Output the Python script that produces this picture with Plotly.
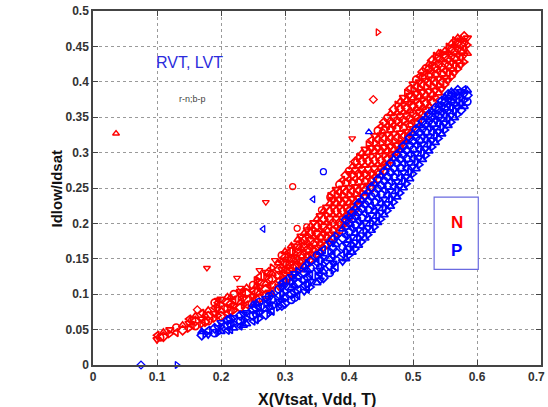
import plotly.graph_objects as go

# ---- N-type devices (red): x column -> Idlow/Idsat values ----
red_cols = [
    (0.100, [0.036, 0.042]),
    (0.105, [0.039]),
    (0.110, [0.040, 0.046]),
    (0.120, [0.044, 0.050]),
    (0.130, [0.046, 0.053]),
    (0.140, [0.049, 0.056]),
    (0.150, [0.052, 0.059, 0.065]),
    (0.160, [0.055, 0.062, 0.069]),
    (0.170, [0.058, 0.065, 0.073]),
    (0.180, [0.062, 0.069, 0.077]),
    (0.190, [0.066, 0.073, 0.081, 0.088]),
    (0.200, [0.069, 0.077, 0.085, 0.093]),
    (0.210, [0.073, 0.080, 0.088, 0.096]),
    (0.220, [0.077, 0.084, 0.092, 0.100]),
    (0.230, [0.081, 0.088, 0.096, 0.104]),
    (0.240, [0.085, 0.093, 0.101, 0.109]),
    (0.250, [0.089, 0.097, 0.105, 0.113]),
    (0.260, [0.094, 0.102, 0.110, 0.118, 0.125]),
    (0.270, [0.099, 0.107, 0.115, 0.123, 0.131]),
    (0.280, [0.105, 0.113, 0.121, 0.129, 0.137]),
    (0.290, [0.111, 0.119, 0.127, 0.135, 0.144]),
    (0.300, [0.120, 0.128, 0.136, 0.144, 0.152, 0.160]),
    (0.310, [0.126, 0.134, 0.142, 0.151, 0.160, 0.168]),
    (0.320, [0.133, 0.141, 0.150, 0.159, 0.168, 0.177]),
    (0.330, [0.140, 0.149, 0.158, 0.167, 0.176, 0.186]),
    (0.340, [0.148, 0.157, 0.166, 0.176, 0.186, 0.196]),
    (0.350, [0.156, 0.166, 0.176, 0.186, 0.196, 0.206]),
    (0.360, [0.165, 0.175, 0.185, 0.195, 0.206, 0.217]),
    (0.370, [0.175, 0.185, 0.195, 0.206, 0.217, 0.228, 0.238]),
    (0.380, [0.185, 0.195, 0.206, 0.217, 0.228, 0.239, 0.248]),
    (0.390, [0.196, 0.206, 0.217, 0.228, 0.239, 0.250, 0.261]),
    (0.400, [0.208, 0.218, 0.229, 0.240, 0.251, 0.262, 0.274]),
    (0.410, [0.220, 0.230, 0.241, 0.252, 0.263, 0.275, 0.287]),
    (0.420, [0.232, 0.242, 0.253, 0.264, 0.276, 0.288, 0.299]),
    (0.430, [0.244, 0.254, 0.265, 0.276, 0.288, 0.300, 0.311]),
    (0.440, [0.256, 0.266, 0.277, 0.289, 0.301, 0.313, 0.324]),
    (0.450, [0.268, 0.278, 0.289, 0.301, 0.313, 0.325, 0.337]),
    (0.460, [0.281, 0.291, 0.302, 0.314, 0.326, 0.338, 0.349]),
    (0.470, [0.294, 0.304, 0.315, 0.327, 0.339, 0.350, 0.361]),
    (0.480, [0.307, 0.317, 0.328, 0.340, 0.351, 0.362, 0.372]),
    (0.490, [0.320, 0.330, 0.341, 0.352, 0.363, 0.374, 0.384]),
    (0.500, [0.334, 0.344, 0.355, 0.366, 0.377, 0.388, 0.397]),
    (0.510, [0.347, 0.357, 0.368, 0.379, 0.390, 0.400, 0.408]),
    (0.520, [0.360, 0.370, 0.381, 0.392, 0.402, 0.412, 0.419]),
    (0.530, [0.372, 0.382, 0.393, 0.404, 0.414, 0.423, 0.430]),
    (0.540, [0.384, 0.394, 0.405, 0.415, 0.425, 0.434, 0.440]),
    (0.550, [0.396, 0.406, 0.416, 0.426, 0.436, 0.444]),
    (0.560, [0.407, 0.417, 0.427, 0.437, 0.446, 0.454]),
    (0.570, [0.418, 0.428, 0.438, 0.447, 0.455, 0.462]),
    (0.580, [0.428, 0.438, 0.447, 0.456, 0.464]),
    (0.585, [0.440, 0.452, 0.462]),
]

# in-between sweep points of the N band
red_mid_cols = [
    (0.155, [0.056, 0.063]),
    (0.175, [0.061, 0.070]),
    (0.195, [0.070, 0.079, 0.088]),
    (0.215, [0.077, 0.086, 0.095]),
    (0.235, [0.085, 0.094, 0.103]),
    (0.255, [0.093, 0.102, 0.111, 0.119]),
    (0.275, [0.103, 0.112, 0.121, 0.131]),
    (0.295, [0.116, 0.125, 0.135, 0.146, 0.155]),
    (0.305, [0.123, 0.132, 0.141, 0.150, 0.159]),
    (0.315, [0.130, 0.139, 0.148, 0.158, 0.168]),
    (0.325, [0.137, 0.146, 0.155, 0.165, 0.175, 0.182]),
    (0.335, [0.144, 0.153, 0.163, 0.173, 0.183, 0.191]),
    (0.345, [0.152, 0.161, 0.171, 0.181, 0.191, 0.201]),
    (0.355, [0.160, 0.170, 0.180, 0.191, 0.201, 0.211]),
    (0.365, [0.170, 0.180, 0.190, 0.201, 0.212, 0.223]),
    (0.375, [0.180, 0.190, 0.201, 0.212, 0.223, 0.234, 0.243]),
    (0.385, [0.190, 0.201, 0.212, 0.223, 0.234, 0.245, 0.255]),
    (0.395, [0.202, 0.212, 0.223, 0.234, 0.245, 0.257, 0.268]),
    (0.405, [0.214, 0.224, 0.235, 0.246, 0.257, 0.269, 0.280]),
    (0.415, [0.226, 0.236, 0.247, 0.258, 0.270, 0.281, 0.293]),
    (0.425, [0.238, 0.248, 0.259, 0.270, 0.282, 0.294, 0.305]),
    (0.435, [0.250, 0.260, 0.271, 0.283, 0.295, 0.307, 0.318]),
    (0.445, [0.262, 0.272, 0.283, 0.295, 0.307, 0.319, 0.331]),
    (0.455, [0.275, 0.285, 0.296, 0.308, 0.320, 0.332, 0.343]),
    (0.465, [0.288, 0.298, 0.309, 0.321, 0.333, 0.344, 0.355]),
    (0.475, [0.301, 0.311, 0.322, 0.334, 0.345, 0.356, 0.367]),
    (0.485, [0.314, 0.324, 0.335, 0.346, 0.357, 0.368, 0.378]),
    (0.495, [0.327, 0.337, 0.348, 0.359, 0.370, 0.381, 0.391]),
    (0.505, [0.341, 0.351, 0.362, 0.373, 0.384, 0.394, 0.403]),
    (0.515, [0.354, 0.364, 0.375, 0.386, 0.396, 0.406, 0.414]),
    (0.525, [0.366, 0.376, 0.387, 0.398, 0.408, 0.418, 0.425]),
    (0.535, [0.378, 0.388, 0.399, 0.410, 0.420, 0.429, 0.436]),
    (0.545, [0.390, 0.400, 0.411, 0.421, 0.431, 0.440]),
    (0.555, [0.402, 0.412, 0.422, 0.432, 0.441, 0.449]),
    (0.565, [0.413, 0.423, 0.433, 0.442, 0.451, 0.458]),
    (0.575, [0.424, 0.434, 0.443, 0.452, 0.460]),
]

# scattered N points away from the main band
red_out_x = [0.036, 0.445, 0.438, 0.312, 0.270, 0.178, 0.225, 0.230, 0.195, 0.163,
             0.260, 0.319, 0.284, 0.405, 0.370, 0.357, 0.334, 0.400, 0.412, 0.452, 0.464]
red_out_y = [0.327, 0.470, 0.375, 0.252, 0.230, 0.137, 0.123, 0.109, 0.092, 0.078,
             0.134, 0.193, 0.148, 0.320, 0.237, 0.219, 0.195, 0.271, 0.287, 0.329, 0.332]

# ---- P-type devices (blue) ----
blue_cols = [
    (0.170, [0.042, 0.047]),
    (0.175, [0.044]),
    (0.180, [0.043, 0.049]),
    (0.190, [0.045, 0.052]),
    (0.200, [0.047, 0.054, 0.060]),
    (0.210, [0.049, 0.056, 0.063]),
    (0.220, [0.052, 0.059, 0.067]),
    (0.230, [0.055, 0.062, 0.070]),
    (0.240, [0.058, 0.066, 0.074]),
    (0.250, [0.062, 0.070, 0.078, 0.085]),
    (0.260, [0.066, 0.074, 0.082, 0.089]),
    (0.270, [0.071, 0.079, 0.087, 0.094]),
    (0.280, [0.076, 0.084, 0.092, 0.100]),
    (0.290, [0.082, 0.090, 0.098, 0.107]),
    (0.300, [0.087, 0.095, 0.104, 0.113, 0.119]),
    (0.310, [0.092, 0.100, 0.109, 0.118, 0.125]),
    (0.320, [0.098, 0.106, 0.115, 0.124, 0.132]),
    (0.330, [0.104, 0.112, 0.121, 0.130, 0.139]),
    (0.340, [0.110, 0.118, 0.127, 0.137, 0.147]),
    (0.350, [0.116, 0.125, 0.134, 0.144, 0.155]),
    (0.360, [0.123, 0.132, 0.142, 0.152, 0.163]),
    (0.370, [0.130, 0.140, 0.150, 0.161, 0.172]),
    (0.380, [0.138, 0.148, 0.159, 0.170, 0.182]),
    (0.390, [0.146, 0.156, 0.167, 0.179, 0.192]),
    (0.400, [0.155, 0.165, 0.176, 0.188, 0.201, 0.210]),
    (0.410, [0.164, 0.174, 0.186, 0.198, 0.211, 0.222]),
    (0.420, [0.174, 0.184, 0.196, 0.208, 0.221, 0.233]),
    (0.430, [0.184, 0.194, 0.206, 0.219, 0.232, 0.245]),
    (0.440, [0.195, 0.205, 0.217, 0.230, 0.243, 0.256]),
    (0.450, [0.206, 0.216, 0.228, 0.241, 0.254, 0.267]),
    (0.460, [0.218, 0.228, 0.240, 0.253, 0.266, 0.279]),
    (0.470, [0.230, 0.240, 0.252, 0.265, 0.278, 0.291]),
    (0.480, [0.243, 0.253, 0.265, 0.278, 0.291, 0.303]),
    (0.490, [0.256, 0.266, 0.278, 0.291, 0.303, 0.315]),
    (0.500, [0.270, 0.280, 0.292, 0.304, 0.316, 0.327]),
    (0.510, [0.283, 0.293, 0.305, 0.317, 0.328, 0.338]),
    (0.520, [0.296, 0.306, 0.318, 0.329, 0.340, 0.349]),
    (0.530, [0.308, 0.318, 0.329, 0.340, 0.350, 0.358]),
    (0.540, [0.320, 0.330, 0.341, 0.351, 0.360, 0.367]),
    (0.550, [0.332, 0.342, 0.352, 0.362, 0.371, 0.378]),
    (0.560, [0.343, 0.353, 0.363, 0.372, 0.380, 0.386]),
    (0.570, [0.354, 0.364, 0.373, 0.381, 0.388]),
    (0.580, [0.365, 0.374, 0.382, 0.389]),
    (0.585, [0.372, 0.381, 0.388]),
]

# in-between sweep points of the P band
blue_mid_cols = [
    (0.195, [0.046, 0.053]),
    (0.215, [0.050, 0.058, 0.065]),
    (0.235, [0.056, 0.064, 0.072]),
    (0.255, [0.064, 0.072, 0.080, 0.087]),
    (0.275, [0.073, 0.081, 0.089, 0.097]),
    (0.295, [0.084, 0.092, 0.101, 0.110, 0.116]),
    (0.315, [0.095, 0.103, 0.112, 0.121, 0.129]),
    (0.335, [0.107, 0.115, 0.124, 0.134, 0.143]),
    (0.355, [0.120, 0.128, 0.138, 0.148, 0.159]),
    (0.375, [0.134, 0.144, 0.154, 0.165, 0.177]),
    (0.395, [0.150, 0.160, 0.171, 0.183, 0.196, 0.205]),
    (0.405, [0.159, 0.169, 0.181, 0.193, 0.206, 0.216]),
    (0.415, [0.169, 0.179, 0.191, 0.203, 0.216, 0.228]),
    (0.425, [0.179, 0.189, 0.201, 0.214, 0.227, 0.239]),
    (0.435, [0.190, 0.200, 0.212, 0.225, 0.238, 0.251]),
    (0.445, [0.201, 0.211, 0.223, 0.236, 0.249, 0.262]),
    (0.455, [0.212, 0.222, 0.234, 0.247, 0.260, 0.273]),
    (0.465, [0.224, 0.234, 0.246, 0.259, 0.272, 0.285]),
    (0.475, [0.237, 0.247, 0.259, 0.272, 0.285, 0.297]),
    (0.485, [0.250, 0.260, 0.272, 0.285, 0.297, 0.309]),
    (0.495, [0.263, 0.273, 0.285, 0.298, 0.310, 0.321]),
    (0.505, [0.277, 0.287, 0.299, 0.311, 0.322, 0.333]),
    (0.515, [0.290, 0.300, 0.312, 0.323, 0.334, 0.344]),
    (0.525, [0.302, 0.312, 0.323, 0.335, 0.345, 0.354]),
    (0.535, [0.314, 0.324, 0.335, 0.346, 0.355, 0.363]),
    (0.545, [0.326, 0.336, 0.347, 0.357, 0.366, 0.373]),
    (0.555, [0.338, 0.348, 0.358, 0.367, 0.376, 0.382]),
    (0.565, [0.349, 0.359, 0.368, 0.377, 0.384]),
    (0.575, [0.360, 0.369, 0.378, 0.386]),
]

blue_out_x = [0.431, 0.360, 0.344, 0.266, 0.075, 0.131]
blue_out_y = [0.329, 0.273, 0.234, 0.192, 0.000, 0.000]

x_ticks = [0, 0.1, 0.2, 0.3, 0.4, 0.5, 0.6, 0.7]
y_ticks = [0, 0.05, 0.1, 0.15, 0.2, 0.25, 0.3, 0.35, 0.4, 0.45, 0.5]

# marker shapes cycle over the sweep points (MATLAB-style open markers)
SYMBOLS = ["triangle-down-open", "triangle-left-open", "circle-open",
           "diamond-open", "triangle-up-open", "triangle-right-open"]
RED_OUT_SYM = ["triangle-up-open", "triangle-right-open", "diamond-open", "circle-open",
               "triangle-down-open", "triangle-down-open", "triangle-down-open",
               "triangle-down-open", "triangle-down-open", "diamond-open",
               "triangle-down-open", "circle-open", "triangle-down-open",
               "triangle-down-open", "circle-open", "circle-open", "circle-open",
               "triangle-down-open", "circle-open", "circle-open", "circle-open"]
BLUE_OUT_SYM = ["triangle-up-open", "circle-open", "triangle-left-open",
                "triangle-left-open", "diamond-open", "triangle-right-open"]


def expand(*col_sets):
    xs, ys = [], []
    for cols in col_sets:
        for cx, vals in cols:
            for v in vals:
                xs.append(cx)
                ys.append(v)
    return xs, ys


red_x, red_y = expand(red_cols, red_mid_cols)
blue_x, blue_y = expand(blue_cols, blue_mid_cols)

RED = "#ff0000"
BLUE = "#0000ff"

fig = go.Figure()


def add_points(xs, ys, color, symbols, size=7, lw=1.7):
    fig.add_trace(go.Scatter(
        x=xs, y=ys, mode="markers", showlegend=False, hoverinfo="skip",
        cliponaxis=False,
        marker=dict(symbol=symbols, size=size, color=color,
                    line=dict(color=color, width=lw)),
    ))


add_points(red_x, red_y, RED, [SYMBOLS[i % len(SYMBOLS)] for i in range(len(red_x))])
add_points(red_out_x, red_out_y, RED, RED_OUT_SYM, size=6, lw=1.3)
add_points(blue_x, blue_y, BLUE, [SYMBOLS[(i + 3) % len(SYMBOLS)] for i in range(len(blue_x))])
add_points(blue_out_x, blue_out_y, BLUE, BLUE_OUT_SYM, size=6, lw=1.3)

tick_font = dict(family="Arial, Liberation Sans, sans-serif", size=12,
                 color="#333333", weight="bold")
axis_common = dict(
    showgrid=True, gridcolor="#9a9a9a", griddash="dot", gridwidth=1,
    zeroline=False, showline=True, linecolor="#444444", linewidth=1.5,
    mirror="allticks", ticks="inside", ticklen=5, tickcolor="#444444",
    tickfont=tick_font, automargin=False,
)

fig.update_layout(
    width=548, height=407,
    margin=dict(l=93, r=7, t=11, b=42),
    paper_bgcolor="white", plot_bgcolor="white",
    xaxis=dict(range=[0, 0.7], tickvals=x_ticks,
               ticktext=[f"{v:g}" for v in x_ticks], **axis_common),
    yaxis=dict(range=[0, 0.5], tickvals=y_ticks,
               ticktext=[f"{v:g}" for v in y_ticks], **axis_common),
    font=dict(family="Arial, Liberation Sans, sans-serif"),
)

# last x tick label, pulled in so it ends at the right edge of the page
fig.add_annotation(x=1, xref="paper", xanchor="right", xshift=6,
                   y=0, yref="paper", yanchor="top", yshift=-3,
                   text="0.7", showarrow=False, font=tick_font)

# axis titles
fig.add_annotation(xref="paper", yref="paper", x=0.5, y=-0.068, yanchor="top",
                   text="<b>X(Vtsat, Vdd, T)</b>", showarrow=False,
                   font=dict(size=16, color="#111111"))
fig.add_annotation(xref="paper", yref="paper", x=-0.105, y=0.5, textangle=-90,
                   text="<b>Idlow/Idsat</b>", showarrow=False,
                   font=dict(size=15, color="#111111"))

# in-plot labels
fig.add_annotation(x=0.150, y=0.427, text="RVT, LVT", showarrow=False,
                   font=dict(size=16, color="#2b2bdc"))
fig.add_annotation(x=0.156, y=0.376, text="r-n;b-p", showarrow=False,
                   font=dict(size=9, color="#444444"))

# N / P key box
fig.add_shape(type="rect", x0=0.533, x1=0.602, y0=0.135, y1=0.237,
              line=dict(color="#6a6ae0", width=1.2), fillcolor="white")
fig.add_annotation(x=0.568, y=0.201, text="<b>N</b>", showarrow=False,
                   font=dict(size=17, color=RED))
fig.add_annotation(x=0.568, y=0.162, text="<b>P</b>", showarrow=False,
                   font=dict(size=17, color=BLUE))

fig.write_html("out.html")
